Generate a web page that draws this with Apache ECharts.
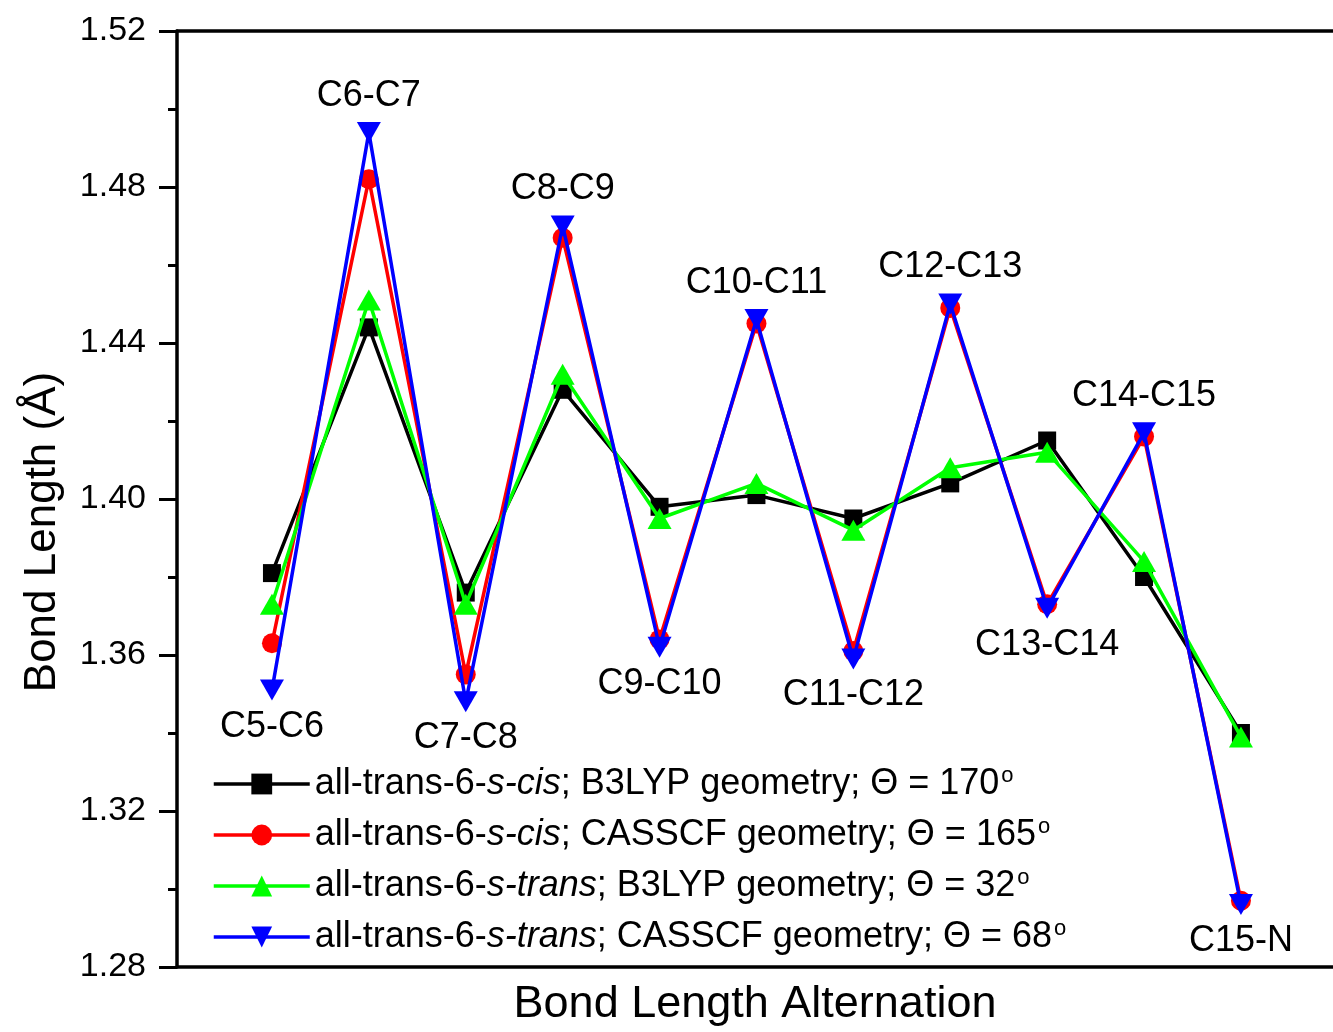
<!DOCTYPE html>
<html>
<head>
<meta charset="utf-8">
<script src="https://cdn.jsdelivr.net/npm/echarts@6/dist/echarts.min.js"></script>
<style>
  html, body { margin: 0; padding: 0; background: #fff; }
  #graph { width: 1333px; height: 1032px; }
</style>
</head>
<body>
<div id="graph"></div>
<script>
var dom = document.getElementById("graph");
var myChart = echarts.init(dom);

// bonds along the chain
var bonds = ['C5-C6', 'C6-C7', 'C7-C8', 'C8-C9', 'C9-C10', 'C10-C11',
             'C11-C12', 'C12-C13', 'C13-C14', 'C14-C15', 'C15-N'];

// bond lengths (Å)
var cisB3lyp    = [1.381, 1.444, 1.376, 1.428, 1.398, 1.401, 1.395, 1.404, 1.415, 1.380, 1.340];
var cisCasscf   = [1.363, 1.482, 1.355, 1.467, 1.364, 1.445, 1.361, 1.449, 1.373, 1.416, 1.297];
var transB3lyp  = [1.373, 1.451, 1.373, 1.432, 1.395, 1.404, 1.392, 1.408, 1.412, 1.384, 1.339];
var transCasscf = [1.351, 1.494, 1.348, 1.470, 1.362, 1.446, 1.359, 1.450, 1.372, 1.417, 1.296];

// legend pieces
var conformer = ['s-cis', 's-cis', 's-trans', 's-trans'];
var method    = ['B3LYP', 'CASSCF', 'B3LYP', 'CASSCF'];
var theta     = [170, 165, 32, 68];

// y ticks
var yMin = 1.28, yMax = 1.52, yStep = 0.04;

var FONT = '"Liberation Sans", Arial, Helvetica, sans-serif';

function seriesName(k) {
    return 'all-trans-6-' + conformer[k] + '; ' + method[k] + ' geometry; Θ = ' + theta[k] + '°';
}

function pairs(values) {
    return values.map(function (v, i) { return [i, v]; });
}

var styles = [
    {color: '#000000', symbol: 'rect',     size: 18, rotate: 0},
    {color: '#ff0000', symbol: 'circle',   size: 20, rotate: 0},
    {color: '#00ff00', symbol: 'triangle', size: [24, 21], rotate: 0},
    {color: '#0000ff', symbol: 'triangle', size: [24, 21], rotate: 180}
];
var allData = [cisB3lyp, cisCasscf, transB3lyp, transCasscf];

var series = allData.map(function (vals, k) {
    var st = styles[k];
    return {
        name: seriesName(k),
        type: 'line',
        data: pairs(vals),
        symbol: st.symbol,
        symbolSize: st.size,
        symbolRotate: st.rotate,
        showAllSymbol: true,
        lineStyle: {color: st.color, width: 3.5},
        itemStyle: {color: st.color},
        emphasis: {disabled: true},
        animation: false,
        z: 2 + k
    };
});

// bond names placed above peaks / below troughs
series[3].data = transCasscf.map(function (v, i) {
    return {
        value: [i, v],
        label: {
            show: true,
            position: i % 2 ? 'top' : 'bottom',
            distance: 8,
            formatter: bonds[i],
            color: '#000',
            fontFamily: FONT,
            fontSize: 36
        }
    };
});

option = {
    backgroundColor: '#fff',
    grid: {left: 177, right: 0, top: 31, bottom: 65},
    legend: {
        orient: 'vertical',
        left: 207,
        top: 760,
        itemWidth: 96,
        itemHeight: 26,
        itemGap: 14,
        selectedMode: false,
        lineStyle: {width: 3.5},
        data: series.map(function (s) { return s.name; }),
        formatter: function (name) {
            var k = series.findIndex(function (s) { return s.name === name; });
            return '{n|all-trans-6-}{i|' + conformer[k] + '}{n|; ' + method[k] +
                   ' geometry; Θ = ' + theta[k] + '}{s|o}';
        },
        textStyle: {
            fontFamily: FONT,
            fontSize: 36,
            color: '#000',
            rich: {
                n: {fontFamily: FONT, fontSize: 36, lineHeight: 38, color: '#000'},
                i: {fontFamily: FONT, fontSize: 36, lineHeight: 38, fontStyle: 'italic', color: '#000'},
                s: {fontFamily: FONT, fontSize: 22, lineHeight: 18, verticalAlign: 'top', color: '#000', padding: [0, 0, 0, 2]}
            }
        }
    },
    xAxis: [{
        type: 'value',
        min: -0.98,
        max: 10.95,
        position: 'bottom',
        name: 'Bond Length Alternation',
        nameLocation: 'middle',
        nameGap: 15,
        nameTextStyle: {fontFamily: FONT, fontSize: 45, color: '#000'},
        axisLine: {show: true, onZero: false, lineStyle: {color: '#000', width: 3.5}},
        axisTick: {show: false},
        axisLabel: {show: false},
        splitLine: {show: false}
    }, {
        type: 'value',
        min: -0.98,
        max: 10.95,
        position: 'top',
        axisLine: {show: true, onZero: false, lineStyle: {color: '#000', width: 3.5}},
        axisTick: {show: false},
        axisLabel: {show: false},
        splitLine: {show: false}
    }],
    yAxis: {
        type: 'value',
        min: yMin,
        max: yMax,
        interval: yStep,
        name: 'Bond Length (Å)',
        nameLocation: 'middle',
        nameGap: 112,
        nameTextStyle: {fontFamily: FONT, fontSize: 44, color: '#000', padding: [0, 66, 0, 0]},
        axisLine: {show: true, onZero: false, lineStyle: {color: '#000', width: 3.5}},
        axisTick: {show: true, inside: false, length: 18, lineStyle: {color: '#000', width: 3}},
        minorTick: {show: true, splitNumber: 2, length: 9, lineStyle: {color: '#000', width: 3}},
        axisLabel: {
            margin: 31,
            fontFamily: FONT,
            fontSize: 34,
            color: '#000',
            formatter: function (v) { return v.toFixed(2); }
        },
        splitLine: {show: false}
    },
    series: series
};

if (option && typeof option === "object") {
    myChart.setOption(option, true);
}
</script>
</body>
</html>
